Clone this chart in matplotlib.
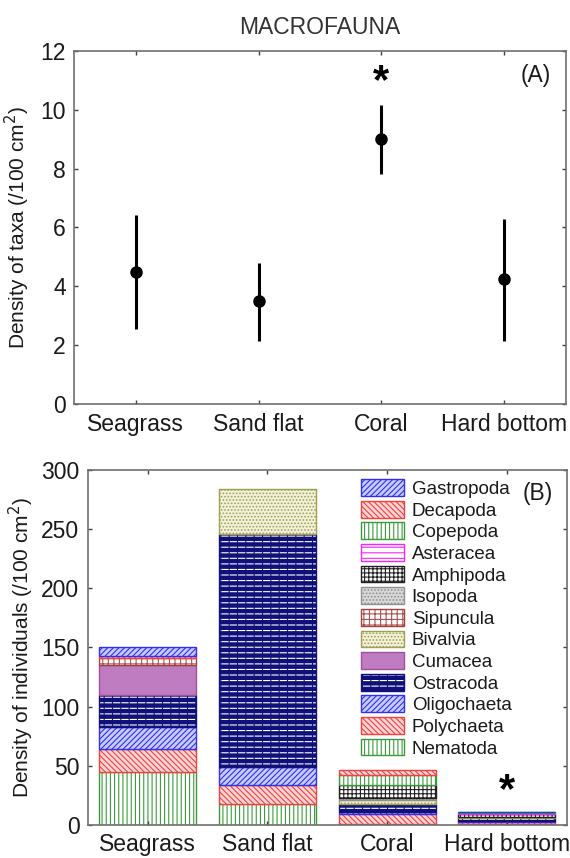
import matplotlib
matplotlib.use("Agg")
import matplotlib.pyplot as plt
import numpy as np
from matplotlib.patches import Patch
from matplotlib.legend_handler import HandlerTuple

plt.rcParams['font.family'] = ['Liberation Sans', 'DejaVu Sans']
plt.rcParams['hatch.linewidth'] = 0.8

habitats = ["Seagrass", "Sand flat", "Coral", "Hard bottom"]

# Panel A: density of taxa (mean, lower, upper)
taxa_mean = [4.5, 3.5, 9.0, 4.25]
taxa_low = [2.55, 2.15, 7.82, 2.15]
taxa_high = [6.42, 4.78, 10.16, 6.3]

# Panel B: density of individuals per taxon (stack order bottom -> top)
taxa_names = ["Nematoda", "Polychaeta", "Oligochaeta", "Ostracoda", "Cumacea",
              "Bivalvia", "Sipuncula", "Isopoda", "Amphipoda", "Asteracea",
              "Copepoda", "Decapoda", "Gastropoda"]
Nematoda = [45, 18, 1, 0.6]
Polychaeta = [19, 16, 8, 2]
Oligochaeta = [19, 15, 2, 1]
Ostracoda = [27, 197, 7, 2.5]
Cumacea = [25, 0, 0, 0]
Bivalvia = [0, 38, 3, 1]
Sipuncula = [6, 0, 0, 0]
Isopoda = [0, 0, 2, 0]
Amphipoda = [0, 0, 11, 2]
Asteracea = [0, 0, 0, 0.6]
Copepoda = [0, 0, 8, 1]
Decapoda = [2, 0, 4.5, 0]
Gastropoda = [7, 0, 0, 0.3]
values = [Nematoda, Polychaeta, Oligochaeta, Ostracoda, Cumacea, Bivalvia,
          Sipuncula, Isopoda, Amphipoda, Asteracea, Copepoda, Decapoda, Gastropoda]

# styles: (facecolor, hatchcolor, hatch, edgecolor, overlay hatch)
styles = {
    "Nematoda":    ("white",   "#3a9a3a", "||||",   "#3a9a3a", ""),
    "Polychaeta":  ("#ffd6d6", "#f04040", "\\\\\\\\\\\\", "#f04040", ""),
    "Oligochaeta": ("#c8ccff", "#3030f0", "//////",  "#3030f0", ""),
    "Ostracoda":   ("#10107a", "white",   "---",    "#10107a", "||"),
    "Cumacea":     ("#c07cc0", "#c07cc0", "",      "#a050a0", ""),
    "Bivalvia":    ("#f2f2dc", "#a0a050", ".....",  "#a0a050", ""),
    "Sipuncula":   ("white",   "#b05050", "+++",    "#a04040", ""),
    "Isopoda":     ("#d8d8d8", "#909090", ".....",  "#909090", ""),
    "Amphipoda":   ("white",   "#202020", "++++",   "#202020", ""),
    "Asteracea":   ("white",   "#ff20ff", "---",    "#ff20ff", ""),
    "Copepoda":    ("white",   "#3a9a3a", "||||",   "#3a9a3a", ""),
    "Decapoda":    ("#ffd6d6", "#f04040", "\\\\\\\\\\\\", "#f04040", ""),
    "Gastropoda":  ("#c8ccff", "#3030f0", "//////",  "#3030f0", ""),
}

fig = plt.figure(figsize=(5.7, 8.58), dpi=100)
axA = fig.add_axes([0.1304, 0.5288, 0.862, 0.4121])
axB = fig.add_axes([0.1539, 0.0385, 0.8404, 0.4138])

spine_col = "#707070"
for ax in (axA, axB):
    for s in ax.spines.values():
        s.set_color(spine_col)
        s.set_linewidth(1.2)
    ax.tick_params(direction="in", length=3, width=1, color="#404040",
                   top=True, right=True, labelsize=16.5, pad=6,
                   labelcolor="#1a1a1a")
    ax.set_xlim(0.5, 4.5)

x = np.arange(1, 5)

# Panel A
mean = np.array(taxa_mean)
yerr = np.vstack([mean - np.array(taxa_low), np.array(taxa_high) - mean])
axA.errorbar(x, mean, yerr=yerr, fmt="o", color="black", ms=8,
             elinewidth=2.2, capsize=0)
axA.set_ylim(0, 12)
axA.set_yticks(range(0, 13, 2))
axA.set_xticks(x)
axA.set_xticklabels(habitats)
axA.set_ylabel("Density of taxa (/100 cm$^2$)", fontsize=15, color="#1a1a1a", labelpad=6)
axA.text(3, 10.95, "*", ha="center", va="center", fontsize=30, fontweight="bold")
axA.text(0.97, 0.93, "(A)", transform=axA.transAxes, ha="right", va="center",
         fontsize=16.5, color="#1a1a1a")
axA.set_title("MACROFAUNA", fontsize=16.5, color="#333333", pad=12)

# Panel B
bottom = np.zeros(4)
for name, vals in zip(taxa_names, values):
    fc, hc, h, ec, oh = styles[name]
    vals = np.array(vals, dtype=float)
    m = vals > 0
    axB.bar(x[m], vals[m], width=0.81, bottom=bottom[m], color=fc, edgecolor=hc,
            hatch=h, linewidth=0)
    if oh:
        axB.bar(x[m], vals[m], width=0.81, bottom=bottom[m], fill=False,
                edgecolor=ec, hatch=oh, linewidth=0)
    axB.bar(x[m], vals[m], width=0.81, bottom=bottom[m], fill=False, edgecolor=ec,
            linewidth=1.0)
    bottom += vals

handles = []
labels = []
for name in taxa_names[::-1]:
    fc, hc, h, ec, oh = styles[name]
    base = Patch(facecolor=fc, edgecolor=hc, hatch=h, linewidth=0)
    edge = Patch(fill=False, edgecolor=ec, hatch=oh, linewidth=1.0)
    handles.append((base, edge))
    labels.append(name)

leg = axB.legend(handles, labels, loc="upper left", bbox_to_anchor=(0.555, 0.995),
                 frameon=False, fontsize=13.5, handlelength=2.3, handleheight=1.0,
                 labelspacing=0.15, handletextpad=0.4, borderaxespad=0,
                 handler_map={tuple: HandlerTuple(ndivide=1, pad=0)})
for t in leg.get_texts():
    t.set_color("#1a1a1a")

axB.set_ylim(0, 300)
axB.set_yticks(range(0, 301, 50))
axB.set_xticks(x)
axB.set_xticklabels(habitats)
axB.set_ylabel("Density of individuals (/100 cm$^2$)", fontsize=15, color="#1a1a1a", labelpad=4)
axB.text(4, 29, "*", ha="center", va="center", fontsize=30, fontweight="bold")
axB.text(0.97, 0.935, "(B)", transform=axB.transAxes, ha="right", va="center",
         fontsize=16.5, color="#1a1a1a")

fig.savefig("out.png", dpi=100)
